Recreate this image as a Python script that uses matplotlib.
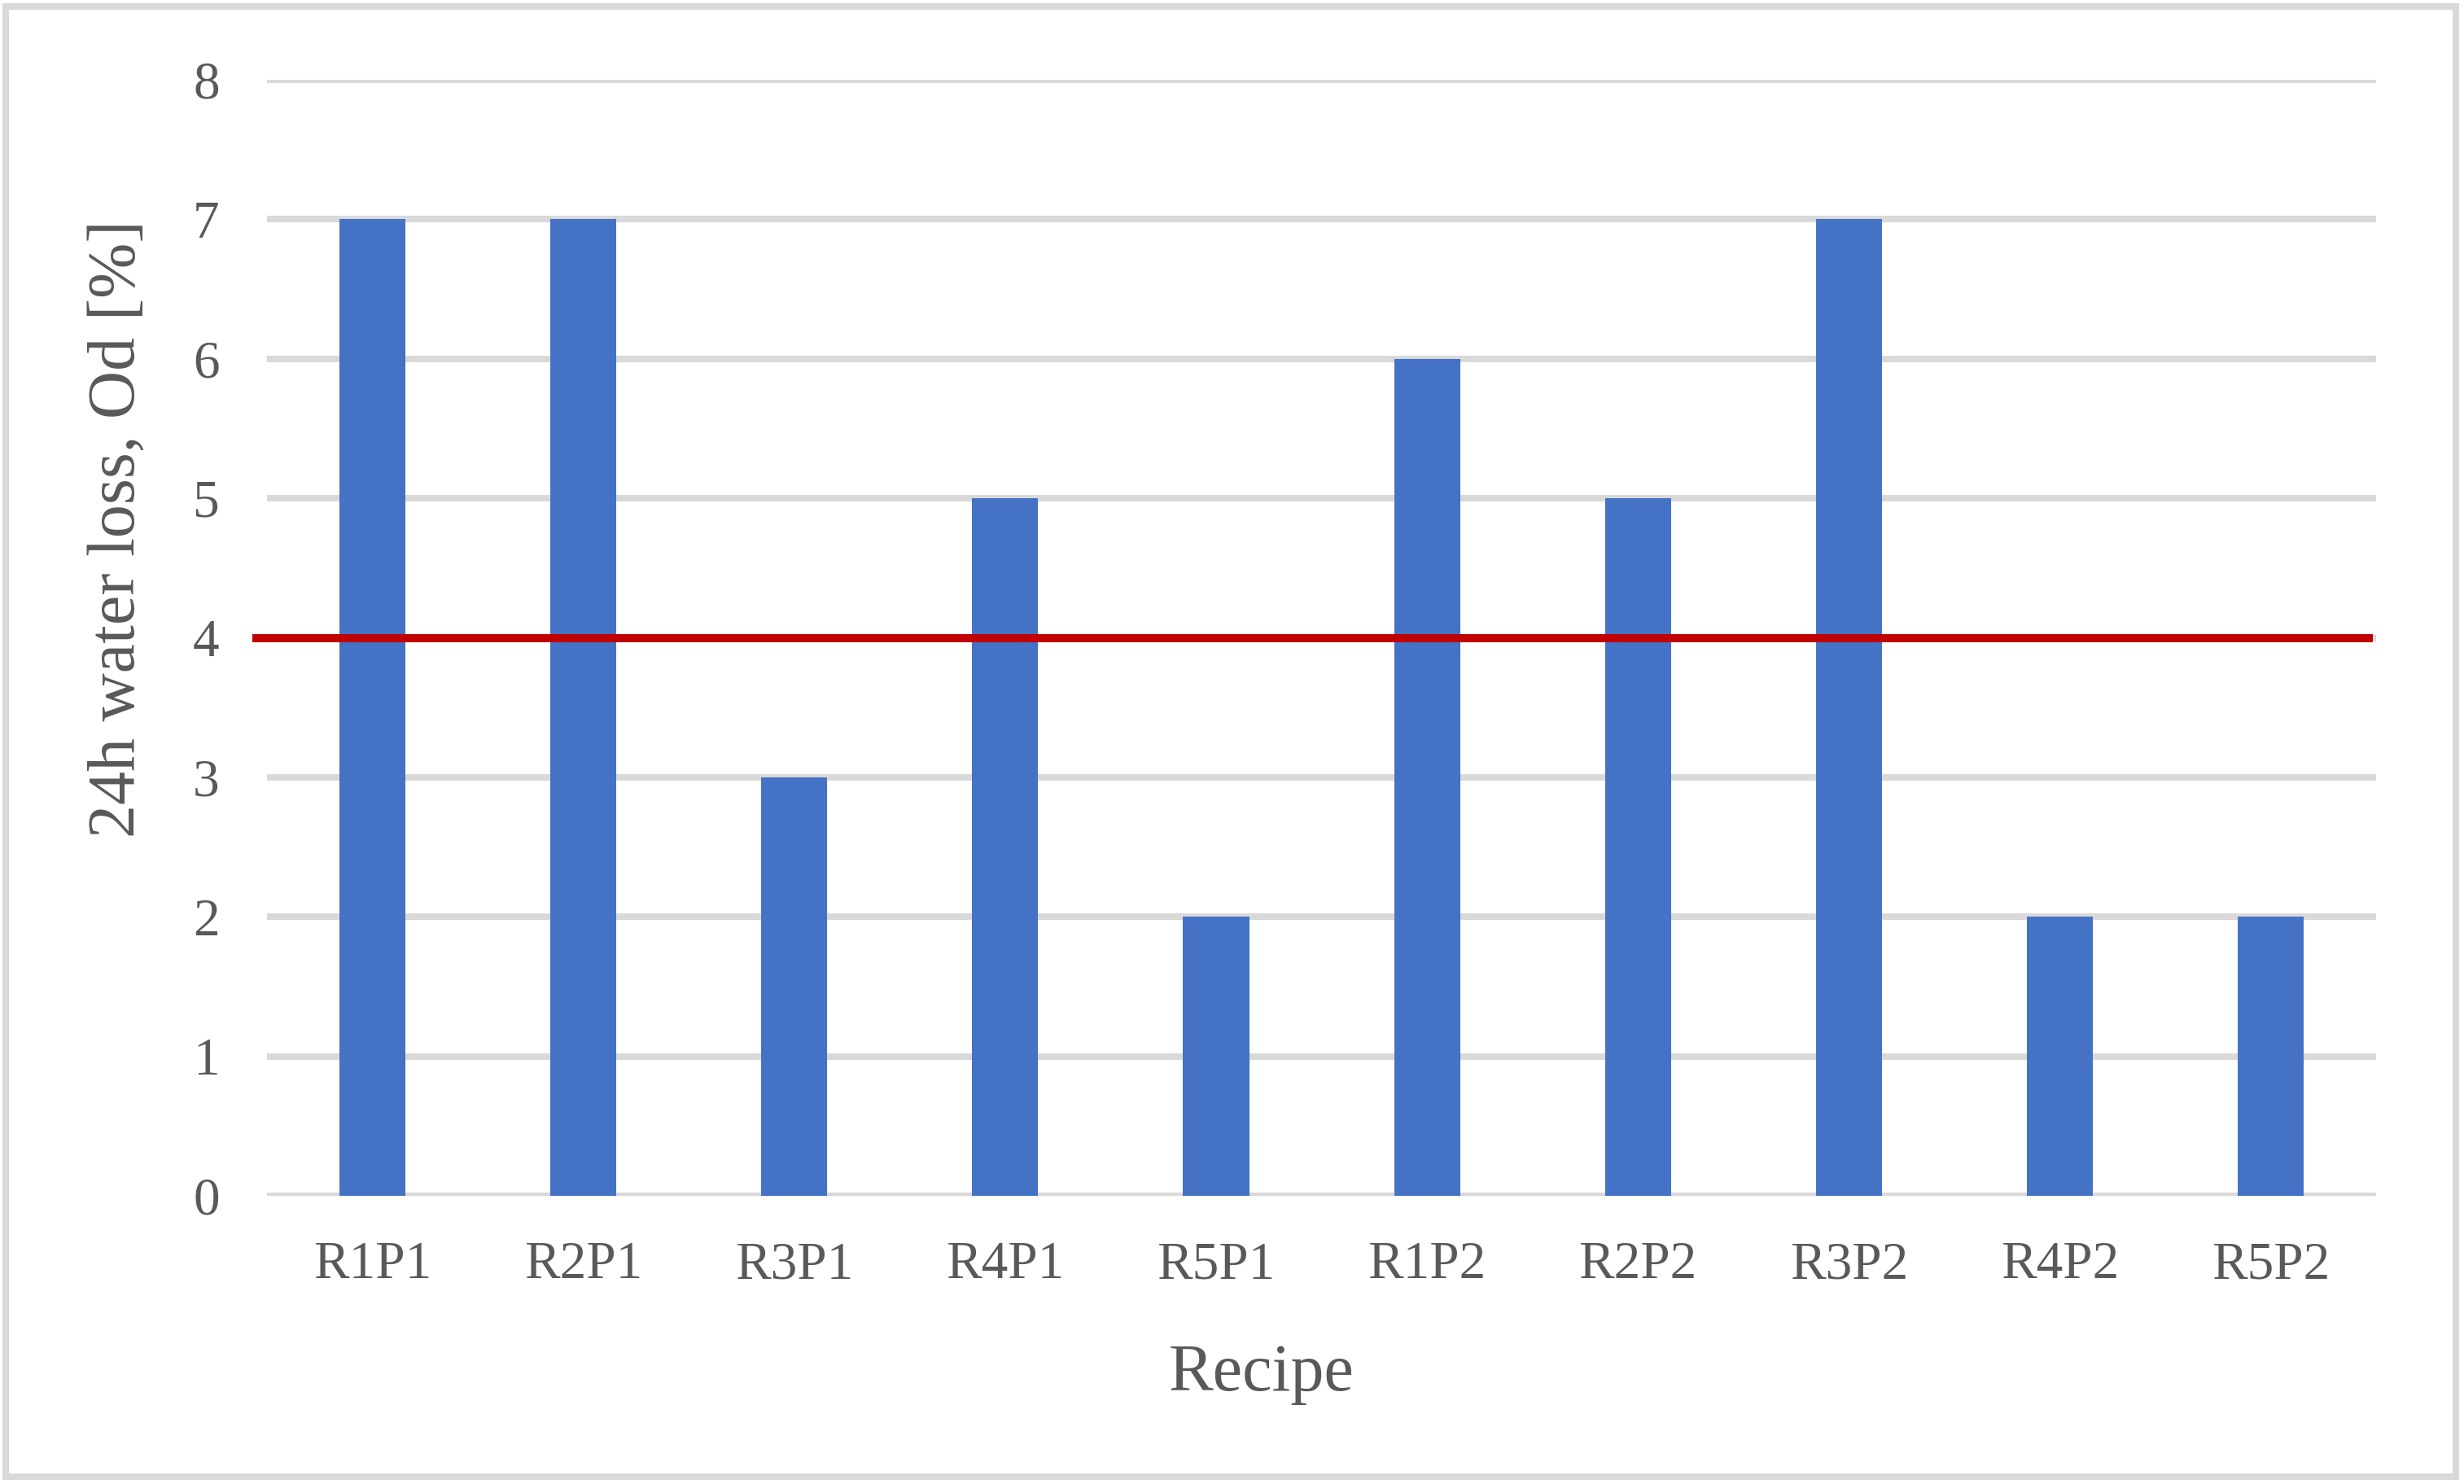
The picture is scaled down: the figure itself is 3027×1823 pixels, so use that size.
import matplotlib.pyplot as plt
from matplotlib.patches import Rectangle

recipes = ['R1P1', 'R2P1', 'R3P1', 'R4P1', 'R5P1', 'R1P2', 'R2P2', 'R3P2', 'R4P2', 'R5P2']
water_loss = [7, 7, 3, 5, 2, 6, 5, 7, 2, 2]
limit = 4
yticks = [0, 1, 2, 3, 4, 5, 6, 7, 8]

BAR_COLOR = '#4472C4'
LIMIT_COLOR = '#C00000'
GRID_COLOR = '#D9D9D9'
TEXT_COLOR = '#595959'

plt.rcParams['font.family'] = ['Liberation Serif', 'DejaVu Serif']

fig = plt.figure(figsize=(15.135, 9.115), dpi=200)
ax = fig.add_axes([0.1084, 0.1942, 0.8559, 0.752])

x = list(range(len(recipes)))
ax.bar(x, water_loss, width=0.313, color=BAR_COLOR, zorder=2)

# limit line, drawn a bit wider than the category range like the Excel original
ax.plot([-0.57, len(recipes) - 0.515], [limit, limit], color=LIMIT_COLOR, lw=3.6,
        solid_capstyle='butt', zorder=3, clip_on=False)

ax.set_xlim(-0.5, len(recipes) - 0.5)
ax.set_ylim(0, 8)
ax.set_yticks(yticks)
ax.set_xticks(x)
ax.set_xticklabels(recipes)
ax.grid(axis='y', color=GRID_COLOR, lw=2.9, zorder=0)
ax.set_axisbelow(True)
for s in ax.spines.values():
    s.set_visible(False)
ax.tick_params(length=0, labelsize=23.5, labelcolor=TEXT_COLOR)
ax.tick_params(axis='y', pad=21)
ax.tick_params(axis='x', pad=20)

ax.set_ylabel('24h water loss, Od [%]', fontsize=29.5, color=TEXT_COLOR, va='center')
ax.set_xlabel('Recipe', fontsize=29.5, color=TEXT_COLOR, va='center')
ax.yaxis.set_label_coords(-0.0706, 0.598)
ax.xaxis.set_label_coords(0.4716, -0.16)

# chart area border
fig.patches.append(Rectangle((7 / 3027, 1 - 1814 / 1823), 3010 / 3027, 1806 / 1823,
                             transform=fig.transFigure, fill=False,
                             edgecolor=GRID_COLOR, lw=2.9))

fig.savefig('out.png', dpi=200, facecolor='white')
